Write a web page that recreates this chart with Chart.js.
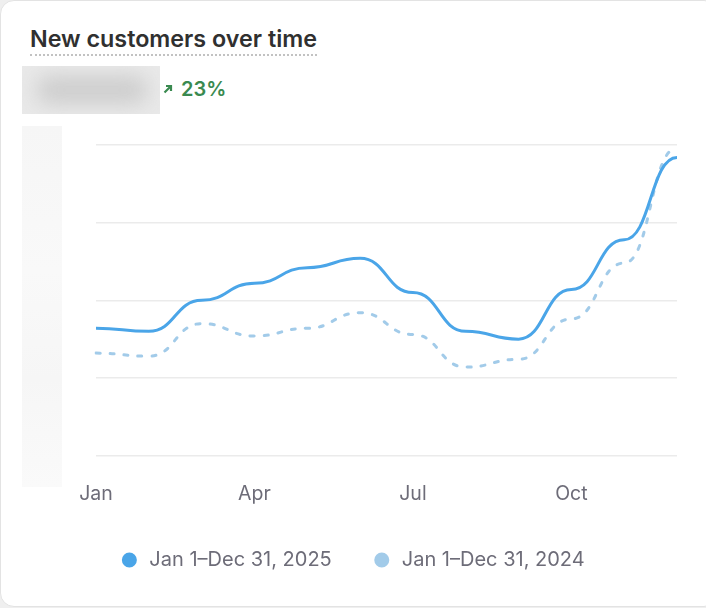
<!DOCTYPE html>
<html>
<head>
<meta charset="utf-8">
<script src="https://cdn.jsdelivr.net/npm/chart.js@4"></script>
<style>
    html, body { margin: 0; padding: 0; background: #efefef; width: 706px; height: 608px; overflow: hidden; font-family: Inter, "Noto Sans", sans-serif; }
    .tarjeta { position: absolute; left: 0; top: 0; width: 716px; height: 605px; background: #fff; border: 1px solid #e3e3e3; border-radius: 14px; }
    .titulo { position: absolute; left: 30px; top: 24px; font-size: 23.3px; font-weight: 600; color: #303030; padding-bottom: 1px; border-bottom: 2px dotted #c2c2c2; }
    .borroso { position: absolute; left: 22px; top: 66px; width: 138px; height: 48px; background: #e9e9e9; overflow: hidden; }
    .borroso div { position: absolute; left: 14px; top: 10px; width: 112px; height: 28px; background: #cdcdcd; border-radius: 14px; filter: blur(10px); }
    .variacion { position: absolute; left: 163px; top: 77px; color: #3a8a50; font-size: 20px; font-weight: 600; display: flex; align-items: center; gap: 8px; }
    .eje-borroso { position: absolute; left: 22px; top: 126px; width: 40px; height: 361px; background: linear-gradient(#f6f6f6, #f9f9f9 40%, #f6f6f6 70%, #fafafa); }
    .grafico { position: absolute; left: 0; top: 120px; width: 704px; height: 470px; }
</style>
</head>
<body>
<div class="tarjeta"></div>
<div class="titulo">New customers over time</div>
<div class="borroso"><div></div></div>
<div class="variacion">
    <svg width="10" height="10" viewBox="0 0 10 10"><path d="M1.5 8.5 L8 2 M3 2 H8 V7" stroke="#3a8a50" stroke-width="2.2" fill="none"/></svg>
    <span>23%</span>
</div>
<div class="eje-borroso"></div>
<div class="grafico"><canvas id="graficoClientes"></canvas></div>

<script>
// Datos del grafico
const meses = ['Jan', 'Feb', 'Mar', 'Apr', 'May', 'Jun', 'Jul', 'Aug', 'Sep', 'Oct', 'Nov', 'Dec'];
const etiquetasVisibles = ['Jan', 'Apr', 'Jul', 'Oct'];
const clientes2025 = [82, 80, 100, 111, 121, 127, 105, 80, 75, 107, 139, 192];
const clientes2024 = [66, 64, 85, 77, 82, 92, 78, 57, 62, 88, 124, 198];
const nombresSeries = ['Jan 1\u2013Dec 31, 2025', 'Jan 1\u2013Dec 31, 2024'];

const colorTexto = '#6d6c78';

// Curvas con tangentes horizontales en cada punto
const tangentesPlanas = {
    id: 'tangentesPlanas',
    beforeDatasetDraw(chart, args) {
        const meta = args.meta;
        meta.dataset.updateControlPoints(chart.chartArea, meta.iScale.axis);
        const pts = meta.data;
        const k = 0.5;
        pts.forEach((p, i) => {
            const prev = pts[i - 1];
            const next = pts[i + 1];
            p.cp1x = prev ? p.x - (p.x - prev.x) * k : p.x;
            p.cp1y = p.y;
            p.cp2x = next ? p.x + (next.x - p.x) * k : p.x;
            p.cp2y = p.y;
        });
    }
};

new Chart(document.getElementById('graficoClientes'), {
    type: 'line',
    data: {
        labels: meses,
        datasets: [{
            label: nombresSeries[0],
            data: clientes2025,
            borderColor: '#4aa5e8',
            backgroundColor: '#4aa5e8',
            borderWidth: 3,
            pointRadius: 0,
            tension: 0.4,
            order: 1
        }, {
            label: nombresSeries[1],
            data: clientes2024,
            borderColor: '#a2cbe9',
            backgroundColor: '#a2cbe9',
            borderWidth: 3,
            borderDash: [4, 10],
            borderCapStyle: 'round',
            pointRadius: 0,
            tension: 0.4,
            order: 2
        }]
    },
    options: {
        responsive: true,
        maintainAspectRatio: false,
        animation: false,
        layout: {
            padding: { top: 25, bottom: 10, left: 0, right: 0 }
        },
        plugins: {
            legend: {
                position: 'bottom',
                labels: {
                    usePointStyle: true,
                    pointStyle: 'circle',
                    boxHeight: 8.5,
                    padding: 40,
                    color: colorTexto,
                    font: { family: 'Inter', size: 20 }
                }
            },
            tooltip: { enabled: false }
        },
        scales: {
            x: {
                grid: { display: false, drawTicks: false },
                border: { display: false },
                ticks: {
                    autoSkip: false,
                    maxRotation: 0,
                    padding: 27,
                    color: colorTexto,
                    font: { family: 'Inter', size: 19.5 },
                    callback: function (valor, indice) {
                        const etiqueta = meses[indice];
                        return etiquetasVisibles.includes(etiqueta) ? etiqueta : '';
                    }
                },
                afterFit: function (escala) { escala.height -= 23; }
            },
            y: {
                min: 0,
                max: 200,
                ticks: { display: false, stepSize: 50 },
                grid: { color: '#ebebeb', lineWidth: 1.5, drawTicks: false },
                border: { display: false },
                afterFit: function (escala) { escala.width = 96; }
            },
            y2: {
                position: 'right',
                grid: { display: false, drawTicks: false },
                ticks: { display: false },
                border: { display: false },
                afterFit: function (escala) { escala.width = 24; }
            }
        }
    },
    plugins: [tangentesPlanas]
});
</script>
</body>
</html>
